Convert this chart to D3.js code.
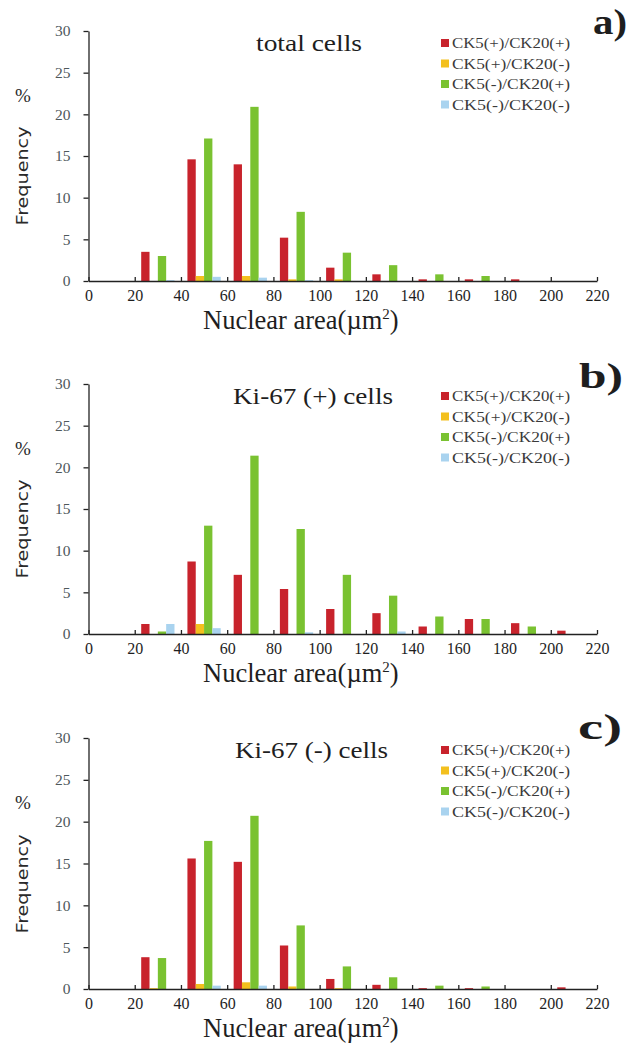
<!DOCTYPE html>
<html>
<head>
<meta charset="utf-8">
<script src="https://cdn.jsdelivr.net/npm/d3@7"></script>
<style>
  body { margin: 0; background: #fff; }
  svg { display: block; }
</style>
</head>
<body>
<svg width="628" height="1046"></svg>
<script>
const binStarts = [20, 40, 60, 80, 100, 120, 140, 160, 180, 200];
const xTicks = [0, 20, 40, 60, 80, 100, 120, 140, 160, 180, 200, 220];
const yTicks = [0, 5, 10, 15, 20, 25, 30];
const seriesNames = ['CK5(+)/CK20(+)', 'CK5(+)/CK20(-)', 'CK5(-)/CK20(+)', 'CK5(-)/CK20(-)'];
const seriesColors = ['#c8232c', '#f3c01e', '#7ac231', '#a9d3ef'];
const panelTitles = ['total cells', 'Ki-67 (+) cells', 'Ki-67 (-) cells'];
const panelLetters = ['a)', 'b)', 'c)'];

// a) total cells
const totalPosPos = [3.5, 14.6, 14.0, 5.2, 1.6, 0.8, 0.2, 0.2, 0.2, 0];
const totalPosNeg = [0, 0.6, 0.6, 0.2, 0.2, 0, 0, 0, 0, 0];
const totalNegPos = [3.0, 17.1, 20.9, 8.3, 3.4, 1.9, 0.8, 0.6, 0, 0];
const totalNegNeg = [0.1, 0.5, 0.4, 0.1, 0, 0, 0, 0, 0, 0];

// b) Ki-67 (+) cells
const kiPosPosPos = [1.2, 8.7, 7.1, 5.4, 3.0, 2.5, 0.9, 1.8, 1.3, 0.4];
const kiPosPosNeg = [0, 1.2, 0, 0, 0, 0, 0, 0, 0, 0];
const kiPosNegPos = [0.3, 13.0, 21.4, 12.6, 7.1, 4.6, 2.1, 1.8, 0.9, 0];
const kiPosNegNeg = [1.2, 0.7, 0, 0.2, 0, 0.3, 0, 0, 0, 0];

// c) Ki-67 (-) cells
const kiNegPosPos = [3.8, 15.6, 15.2, 5.2, 1.2, 0.5, 0.1, 0.1, 0, 0.2];
const kiNegPosNeg = [0.1, 0.6, 0.8, 0.3, 0.1, 0, 0, 0, 0, 0];
const kiNegNegPos = [3.7, 17.7, 20.7, 7.6, 2.7, 1.4, 0.4, 0.3, 0, 0];
const kiNegNegNeg = [0, 0.4, 0.4, 0, 0, 0, 0, 0, 0, 0];

const panelSeries = [
  [totalPosPos, totalPosNeg, totalNegPos, totalNegNeg],
  [kiPosPosPos, kiPosPosNeg, kiPosNegPos, kiPosNegNeg],
  [kiNegPosPos, kiNegPosNeg, kiNegNegPos, kiNegNegNeg],
];

// layout of each panel on the page
const layout = [
  { top: 31, bottom: 281, titleX: 256, titleW: 106, letterX: 593, letterW: 34, letterDy: 3 },
  { top: 384, bottom: 634, titleX: 233, titleW: 160, letterX: 579, letterW: 44, letterDy: 4 },
  { top: 738, bottom: 989, titleX: 235, titleW: 153, letterX: 578, letterW: 44, letterDy: 1 },
];

const serif = "'Liberation Serif', 'Times New Roman', serif";
const svg = d3.select('svg');

panelSeries.forEach((series, p) => {
  const L = layout[p];
  const g = svg.append('g').attr('class', 'panel');

  const x = d3.scaleLinear().domain([0, 220]).range([88.5, 597]);
  const y = d3.scaleLinear().domain([0, 30]).range([L.bottom, L.top]);
  const inner = d3
    .scaleBand()
    .domain(d3.range(seriesNames.length))
    .range([x(2.8) - x(0), x(17.2) - x(0)]);

  const rows = binStarts
    .flatMap((b, bi) => series.map((vals, si) => ({ b, si, v: vals[bi] })))
    .filter(d => d.v > 0);

  g.append('g')
    .selectAll('rect')
    .data(rows)
    .enter()
    .append('rect')
    .attr('x', d => x(d.b) + inner(d.si))
    .attr('y', d => y(d.v))
    .attr('width', inner.bandwidth())
    .attr('height', d => y(0) - y(d.v))
    .attr('fill', d => seriesColors[d.si]);

  // axes
  const xAxis = g
    .append('g')
    .attr('transform', `translate(0, ${L.bottom})`)
    .call(
      d3.axisBottom(x).tickValues(xTicks).tickSizeInner(-4).tickSizeOuter(0).tickPadding(9),
    );
  xAxis.selectAll('text').attr('font-family', serif).attr('font-size', 16).attr('fill', '#1e1e1e');

  const yAxis = g
    .append('g')
    .attr('transform', 'translate(88.5, 0)')
    .call(d3.axisLeft(y).tickValues(yTicks).tickSize(5).tickSizeOuter(0).tickPadding(13));
  yAxis.selectAll('text').attr('font-family', serif).attr('font-size', 15.5).attr('fill', '#4e585b');

  g.selectAll('.domain, .tick line').attr('stroke', '#222').attr('stroke-width', 1.3);

  // axis titles
  const xt = g
    .append('text')
    .attr('x', 203)
    .attr('y', L.bottom + 48)
    .attr('font-family', serif)
    .attr('font-size', 26.5)
    .attr('fill', '#1e1e1e');
  xt.append('tspan').text('Nuclear area(\u00b5m');
  xt.append('tspan').attr('font-size', 15).attr('dy', -10).text('2');
  xt.append('tspan').attr('dy', 10).text(')');

  g.append('text')
    .attr('transform', `translate(28, ${L.bottom - 105}) rotate(-90)`)
    .attr('text-anchor', 'middle')
    .attr('font-family', "'DejaVu Sans', Verdana, sans-serif")
    .attr('font-size', 16.5)
    .attr('textLength', 99)
    .attr('lengthAdjust', 'spacingAndGlyphs')
    .attr('fill', '#2a2a2a')
    .text('Frequency');

  g.append('text')
    .attr('x', 23)
    .attr('y', L.top + 71)
    .attr('text-anchor', 'middle')
    .attr('font-family', serif)
    .attr('font-size', 19)
    .attr('fill', '#2a2a2a')
    .text('%');

  // title and panel letter
  g.append('text')
    .attr('x', L.titleX)
    .attr('y', L.top + 20)
    .attr('font-family', serif)
    .attr('font-size', 23)
    .attr('textLength', L.titleW)
    .attr('lengthAdjust', 'spacingAndGlyphs')
    .attr('fill', '#1e1e1e')
    .text(panelTitles[p]);

  g.append('text')
    .attr('x', L.letterX)
    .attr('y', L.top + L.letterDy)
    .attr('font-family', serif)
    .attr('font-weight', 'bold')
    .attr('font-size', 35)
    .attr('textLength', L.letterW)
    .attr('lengthAdjust', 'spacingAndGlyphs')
    .attr('fill', '#1e1e1e')
    .text(panelLetters[p]);

  // legend
  const legend = g
    .append('g')
    .selectAll('g')
    .data(seriesNames)
    .enter()
    .append('g')
    .attr('transform', (_, i) => `translate(441, ${L.top + 12 + i * 20.5})`);

  legend
    .append('rect')
    .attr('x', 0)
    .attr('y', -4)
    .attr('width', 8)
    .attr('height', 8)
    .attr('fill', (_, i) => seriesColors[i]);

  legend
    .append('text')
    .attr('x', 11)
    .attr('y', 5)
    .attr('font-family', serif)
    .attr('font-size', 14.5)
    .attr('textLength', 118)
    .attr('lengthAdjust', 'spacingAndGlyphs')
    .attr('fill', '#3a3a3a')
    .text(d => d);
});
</script>
</body>
</html>
